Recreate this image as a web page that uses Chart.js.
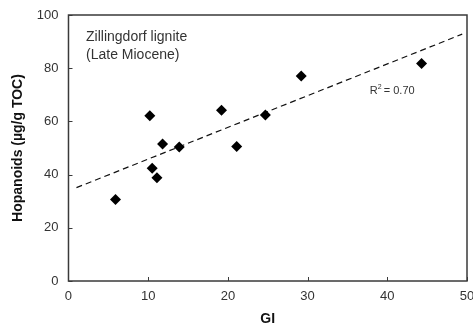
<!DOCTYPE html>
<html>
<head>
<meta charset="utf-8">
<script src="https://cdn.jsdelivr.net/npm/chart.js@4/dist/chart.umd.min.js"></script>
<style>
html,body{margin:0;padding:0;background:#fff;}
#wrap{position:relative;width:473px;height:324px;}
</style>
</head>
<body>
<div id="wrap"><canvas id="c" width="473" height="324"></canvas></div>
<script>
const giValues = [5.9, 10.2, 10.5, 11.1, 11.8, 13.9, 19.2, 21.1, 24.7, 29.2, 44.3];
const hopanoidValues = [30.6, 62.1, 42.4, 38.8, 51.5, 50.4, 64.2, 50.6, 62.4, 77.1, 81.8];
const trendX = [1.0, 49.4];
const trendY = [35.1, 92.8];
const xTicks = [0, 10, 20, 30, 40, 50];
const yTicks = [0, 20, 40, 60, 80, 100];
const annotationLines = ['Zillingdorf lignite', '(Late Miocene)'];
const r2Label = '0.70';

const FONT = '"Liberation Sans", Arial, Helvetica, sans-serif';

const frameAndTicks = {
  id: 'frameAndTicks',
  afterDraw(chart) {
    const ctx = chart.ctx;
    const a = chart.chartArea;
    const xs = chart.scales.x, ys = chart.scales.y;
    ctx.save();
    ctx.strokeStyle = '#3a3a3a';
    ctx.lineWidth = 1.5;
    ctx.strokeRect(a.left, a.top, a.right - a.left, a.bottom - a.top);
    ctx.lineWidth = 1;
    xTicks.forEach(v => {
      const px = Math.round(xs.getPixelForValue(v)) + 0.5;
      ctx.beginPath(); ctx.moveTo(px, a.bottom); ctx.lineTo(px, a.bottom - 4); ctx.stroke();
    });
    yTicks.forEach(v => {
      const py = Math.round(ys.getPixelForValue(v)) + 0.5;
      ctx.beginPath(); ctx.moveTo(a.left, py); ctx.lineTo(a.left + 4, py); ctx.stroke();
    });
    // annotation text
    ctx.fillStyle = '#333';
    ctx.font = '14px ' + FONT;
    ctx.textBaseline = 'alphabetic';
    ctx.textAlign = 'left';
    const tx = xs.getPixelForValue(2.2);
    const ty = ys.getPixelForValue(90.4);
    annotationLines.forEach((t, i) => ctx.fillText(t, tx, ty + i * 18.3));
    // R2 label
    const rx = xs.getPixelForValue(37.8);
    const ry = ys.getPixelForValue(70.2);
    ctx.font = '11px ' + FONT;
    ctx.fillText('R', rx, ry);
    const rw = ctx.measureText('R').width;
    ctx.font = '7px ' + FONT;
    ctx.fillText('2', rx + rw, ry - 5);
    ctx.font = '11px ' + FONT;
    ctx.fillText(' = ' + r2Label, rx + rw + 3, ry);
    ctx.restore();
  }
};

new Chart(document.getElementById('c'), {
  type: 'scatter',
  data: {
    datasets: [
      {
        label: 'Hopanoids',
        data: giValues.map((x, i) => ({x: x, y: hopanoidValues[i]})),
        pointStyle: 'rectRot',
        pointRadius: 5.5,
        backgroundColor: '#000',
        borderColor: '#000',
        borderWidth: 0,
        order: 1
      },
      {
        type: 'line',
        label: 'Trend',
        data: trendX.map((x, i) => ({x: x, y: trendY[i]})),
        borderColor: '#111',
        borderWidth: 1.2,
        borderDash: [6, 4],
        pointRadius: 0,
        fill: false,
        order: 2
      }
    ]
  },
  options: {
    responsive: false,
    animation: false,
    devicePixelRatio: 1,
    layout: {padding: {top: 15, right: 6, left: 0, bottom: 0}},
    plugins: {legend: {display: false}, tooltip: {enabled: false}},
    scales: {
      x: {
        type: 'linear', min: 0, max: 50,
        afterBuildTicks: s => { s.ticks = xTicks.map(v => ({value: v})); },
        afterFit: s => { s.height = 43; s.paddingRight = 0; },
        grid: {display: false, drawTicks: false},
        border: {display: false},
        ticks: {color: '#333', font: {family: FONT, size: 13}, padding: 8, maxRotation: 0},
        title: {display: true, text: 'GI', color: '#111', font: {family: FONT, size: 14, weight: 'bold'}, padding: {top: 0, bottom: -4}}
      },
      y: {
        type: 'linear', min: 0, max: 100,
        afterBuildTicks: s => { s.ticks = yTicks.map(v => ({value: v})); },
        afterFit: s => { s.paddingTop = 0; s.paddingBottom = 0; },
        grid: {display: false, drawTicks: false},
        border: {display: false},
        ticks: {color: '#333', font: {family: FONT, size: 13}, padding: 10},
        title: {display: true, text: 'Hopanoids (µg/g TOC)', color: '#111', font: {family: FONT, size: 14, weight: 'bold'}, padding: {top: 10, bottom: 0}}
      }
    }
  },
  plugins: [frameAndTicks]
});
</script>
</body>
</html>
